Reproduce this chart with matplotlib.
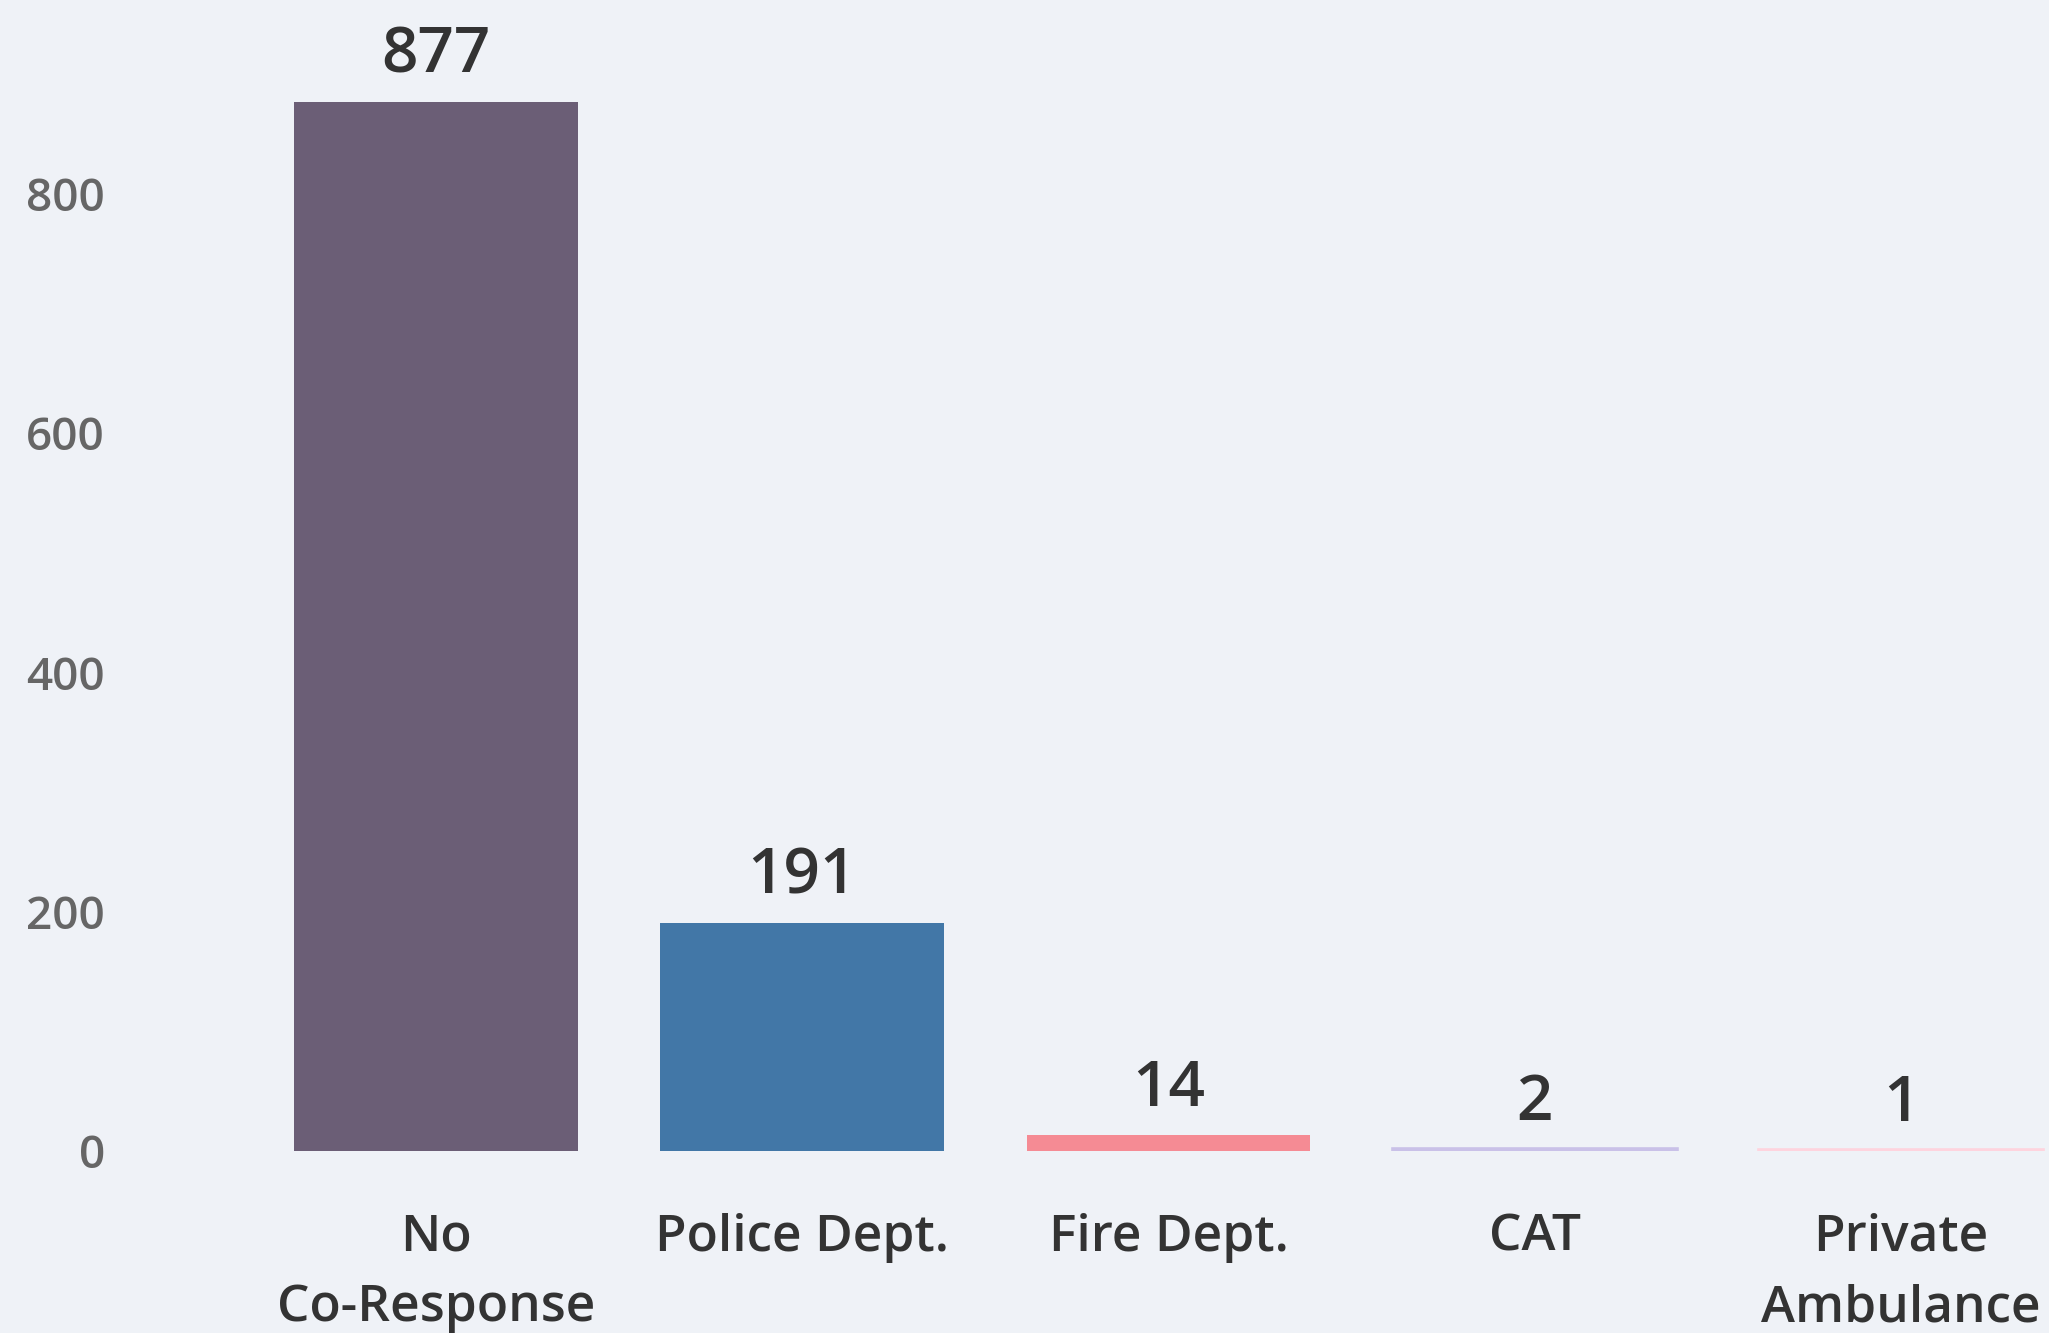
import matplotlib.pyplot as plt

categories = ["No\nCo-Response", "Police Dept.", "Fire Dept.", "CAT", "Private\nAmbulance"]
counts = [877, 191, 14, 2, 1]
bar_colors = ["#6b5e76", "#4277a7", "#f58b94", "#c9c1e8", "#fed4de"]
y_ticks = [0, 200, 400, 600, 800]

bg = "#eff2f7"
plt.rcParams["font.family"] = ["Open Sans", "DejaVu Sans"]

fig = plt.figure(figsize=(10.245, 6.665), dpi=200, facecolor=bg)
ax = fig.add_axes([0.1, 0.1362, 0.9, 0.8638])
ax.set_facecolor(bg)

x = list(range(len(categories)))
bars = ax.bar(x, counts, width=0.775, color=bar_colors, zorder=2)
# tiny bars get an outline of their own colour so they stay visible
for b, c, v in zip(bars, bar_colors, counts):
    if v < 5:
        b.set_edgecolor(c)
        b.set_linewidth(1.3)

for xi, v in zip(x, counts):
    ax.annotate(str(v), (xi, v), xytext=(0, 5), textcoords="offset points",
                ha="center", va="bottom", fontsize=23, fontweight="semibold",
                color="#333333")

ax.set_xlim(-0.631, 4.404)
ax.set_ylim(0, 962)
ax.set_xticks(x)
ax.set_xticklabels(categories, fontsize=18.5, fontweight="semibold",
                   color="#333333", linespacing=1.55)
ax.set_yticks(y_ticks)
ax.set_yticklabels([str(t) for t in y_ticks], fontsize=16.5,
                   fontweight="semibold", color="#666666")
ax.tick_params(axis="y", length=0, pad=36)
ax.tick_params(axis="x", length=0, pad=22)
for s in ax.spines.values():
    s.set_visible(False)

fig.savefig("out.png", dpi=200, facecolor=bg)
